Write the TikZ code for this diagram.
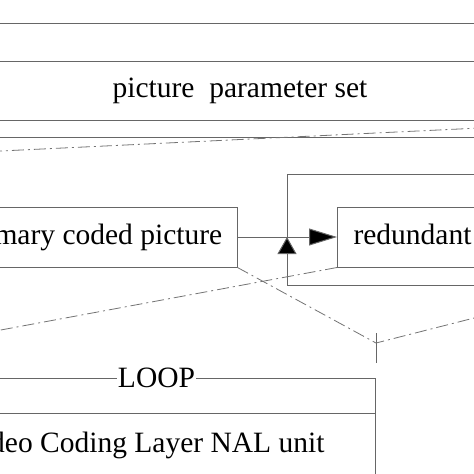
\documentclass[tikz,border=0pt]{standalone}
\usepackage{fontspec}
\setmainfont{Liberation Serif}
\usetikzlibrary{arrows.meta}
\usetikzlibrary{positioning}
\tikzset{
  > = {Triangle[length = 28pt, width = 17pt]},
  frame/.style = {rectangle,
                  draw = black!60,
                  line width = 1pt,
                  font = \fontsize{29.5}{32}\selectfont,
                  inner sep = 0pt},
  link/.style = {draw = black!60,
                 line width = 1pt},
  zoomline/.style = {draw = black!55,
                     line width = 0.8pt,
                     dash pattern = on 12pt off 4pt on 2pt off 4pt}
}

\begin{document}
\begin{tikzpicture}[x = 1pt, y = -1pt]

\useasboundingbox (0,0) rectangle (474,474);
\clip (0,0) rectangle (474,474);

\node[frame, minimum width = 600pt, minimum height = 38pt](seq-param) at (240,42){};

\node[frame, minimum width = 600pt, minimum height = 59pt](pic-param) at (240,90.5){picture\ \ parameter set};

\node[frame, minimum width = 600pt, minimum height = 17pt](slice-param) at (240,128.5){};

\node[frame, minimum width = 290pt, minimum height = 60pt](primary-pic) at (92,237){primary coded picture};

\node[frame, minimum height = 60pt, inner xsep = 16pt, anchor = west](redundant-pic) at (337,237){redundant coded picture};

\draw[link, -{Triangle[length = 28pt, width = 17pt, fill = black]}] (primary-pic.east) -- (redundant-pic.west);

% loop round the redundant picture
\coordinate (loop-join) at (287,237);
\coordinate (loop-top) at (540,174);
\coordinate (loop-bottom) at (540,285);
\draw[link] (loop-top) -| (loop-join);
\draw[link, -{Triangle[length = 17pt, width = 19pt, fill = black]}] (loop-bottom) -| (loop-join);

\node[frame, minimum width = 464pt, minimum height = 130pt, anchor = north east](loop) at (376,378){};
\node[fill = white, inner ysep = 0pt, inner xsep = 1pt, font = \fontsize{29.5}{32}\selectfont](loop-label) at ([xshift = 13pt]loop.north){LOOP};

\node[frame, minimum width = 464pt, minimum height = 64pt, anchor = north east](vcl-nal) at (376,413){Video Coding Layer NAL unit};

\coordinate (loop-mark) at (376,348);
\draw[link] ([yshift = 15pt]loop-mark) -- ([yshift = -15pt]loop-mark);

% zoom lines
\coordinate (zoom-a-left) at (-10,151.5);
\coordinate (zoom-a-right) at (480,128);
\coordinate (zoom-b-left) at (-10,332);
\coordinate (zoom-c-corner) at (376,343);
\coordinate (zoom-c-right) at (480,316.5);
\draw[zoomline] (zoom-a-left) -- (zoom-a-right);
\draw[zoomline] (redundant-pic.south west) -- (zoom-b-left);
\draw[zoomline] (primary-pic.south east) -- (zoom-c-corner) -- (zoom-c-right);

\end{tikzpicture}
\end{document}
